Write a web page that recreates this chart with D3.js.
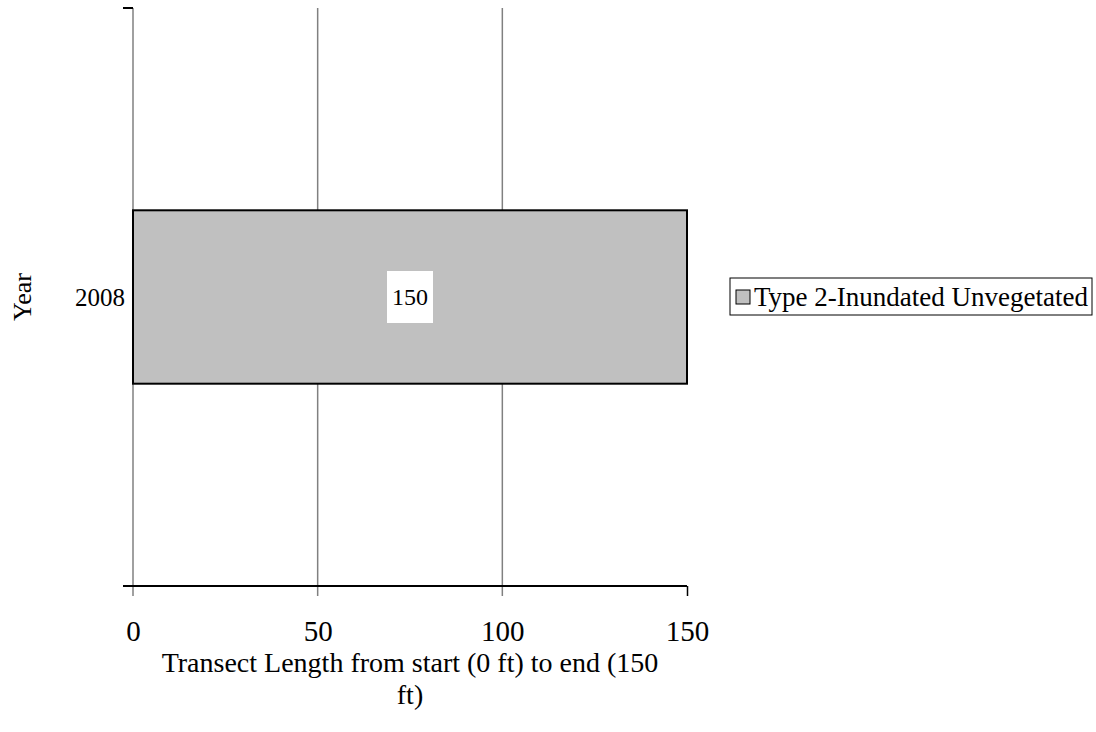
<!DOCTYPE html>
<html><head><meta charset="utf-8">
<script src="https://cdn.jsdelivr.net/npm/d3@7"></script>
<style>body{margin:0;background:#fff;} svg{display:block;} text{font-family:"Liberation Serif","Times New Roman",serif;fill:#000;}</style>
</head><body>
<script>
const categories = ["2008"];
const seriesNames = ["Type 2-Inundated Unvegetated"];
const seriesValues = [150];
const xTicks = [0, 50, 100, 150];

(function () {
const W = 1096, H = 732;
const svg = d3.select("body").append("svg").attr("width", W).attr("height", H);
const pL = 133, pR = 687, pT = 8, pB = 586;
const x = d3.scaleLinear().domain([0, 150]).range([pL, pR]);
const y = d3.scaleBand().domain(categories).range([pT, pB]).paddingInner(0.7).paddingOuter(0.35);

// gridlines (gray) incl. y-axis at 0
svg.append("g").selectAll("line").data(xTicks.filter(t => t < 150)).join("line")
  .attr("x1", d => x(d)).attr("x2", d => x(d)).attr("y1", pT).attr("y2", pB + 10)
  .attr("stroke", "#808080").attr("stroke-width", 1.5);

// bars
svg.append("g").selectAll("rect").data(categories).join("rect")
  .attr("x", x(0)).attr("y", d => y(d))
  .attr("width", (d, i) => x(seriesValues[i]) - x(0)).attr("height", y.bandwidth())
  .attr("fill", "#c0c0c0").attr("stroke", "#000").attr("stroke-width", 2);

// x axis
const xa = svg.append("g").attr("transform", `translate(0,${pB})`)
  .call(d3.axisBottom(x).tickValues(xTicks).tickSize(10).tickPadding(24));
xa.select(".domain").remove();
xa.append("line").attr("x1", pL - 10).attr("x2", pR).attr("y1", 0).attr("y2", 0).attr("stroke", "#000").attr("stroke-width", 2);
xa.selectAll(".tick line").attr("stroke", (d) => d === 150 ? "#000" : "none").attr("stroke-width", 1.5);
xa.selectAll(".tick text").attr("font-size", 29).style("font-family", '"Liberation Serif",serif');

// y axis ticks (category boundaries)
svg.append("line").attr("x1", pL - 10).attr("x2", pL).attr("y1", pT).attr("y2", pT).attr("stroke", "#000").attr("stroke-width", 2);
svg.append("g").selectAll("text").data(categories).join("text")
  .attr("x", pL - 8).attr("y", d => y(d) + y.bandwidth() / 2).attr("dy", "0.35em")
  .attr("text-anchor", "end").attr("font-size", 25).text(d => d);

// data labels
const lbl = svg.append("g").selectAll("g").data(categories).join("g")
  .attr("transform", (d, i) => `translate(${(x(0) + x(seriesValues[i])) / 2},${y(d) + y.bandwidth() / 2})`);
lbl.append("rect").attr("x", -23).attr("y", -26).attr("width", 46).attr("height", 52).attr("fill", "#fff");
lbl.append("text").attr("text-anchor", "middle").attr("dy", "0.35em").attr("font-size", 24).text((d, i) => seriesValues[i]);

// axis titles
svg.append("text").attr("transform", `translate(31,${(pT + pB) / 2}) rotate(-90)`)
  .attr("text-anchor", "middle").attr("font-size", 26).text("Year");
const xt = svg.append("text").attr("text-anchor", "middle").attr("font-size", 28);
xt.append("tspan").attr("x", 410).attr("y", 672).text("Transect Length from start (0 ft) to end (150");
xt.append("tspan").attr("x", 410).attr("y", 704).text("ft)");

// legend
const lg = svg.append("g").attr("transform", "translate(730,278)");
lg.append("rect").attr("x", 0).attr("y", 0).attr("width", 362).attr("height", 37).attr("fill", "#fff").attr("stroke", "#000").attr("stroke-width", 1);
lg.append("rect").attr("x", 6).attr("y", 12).attr("width", 14).attr("height", 14).attr("fill", "#c0c0c0").attr("stroke", "#000").attr("stroke-width", 1);
lg.append("text").attr("x", 24).attr("y", 19).attr("dy", "0.35em").attr("font-size", 27).text(seriesNames[0]);
})();
</script>
</body></html>
